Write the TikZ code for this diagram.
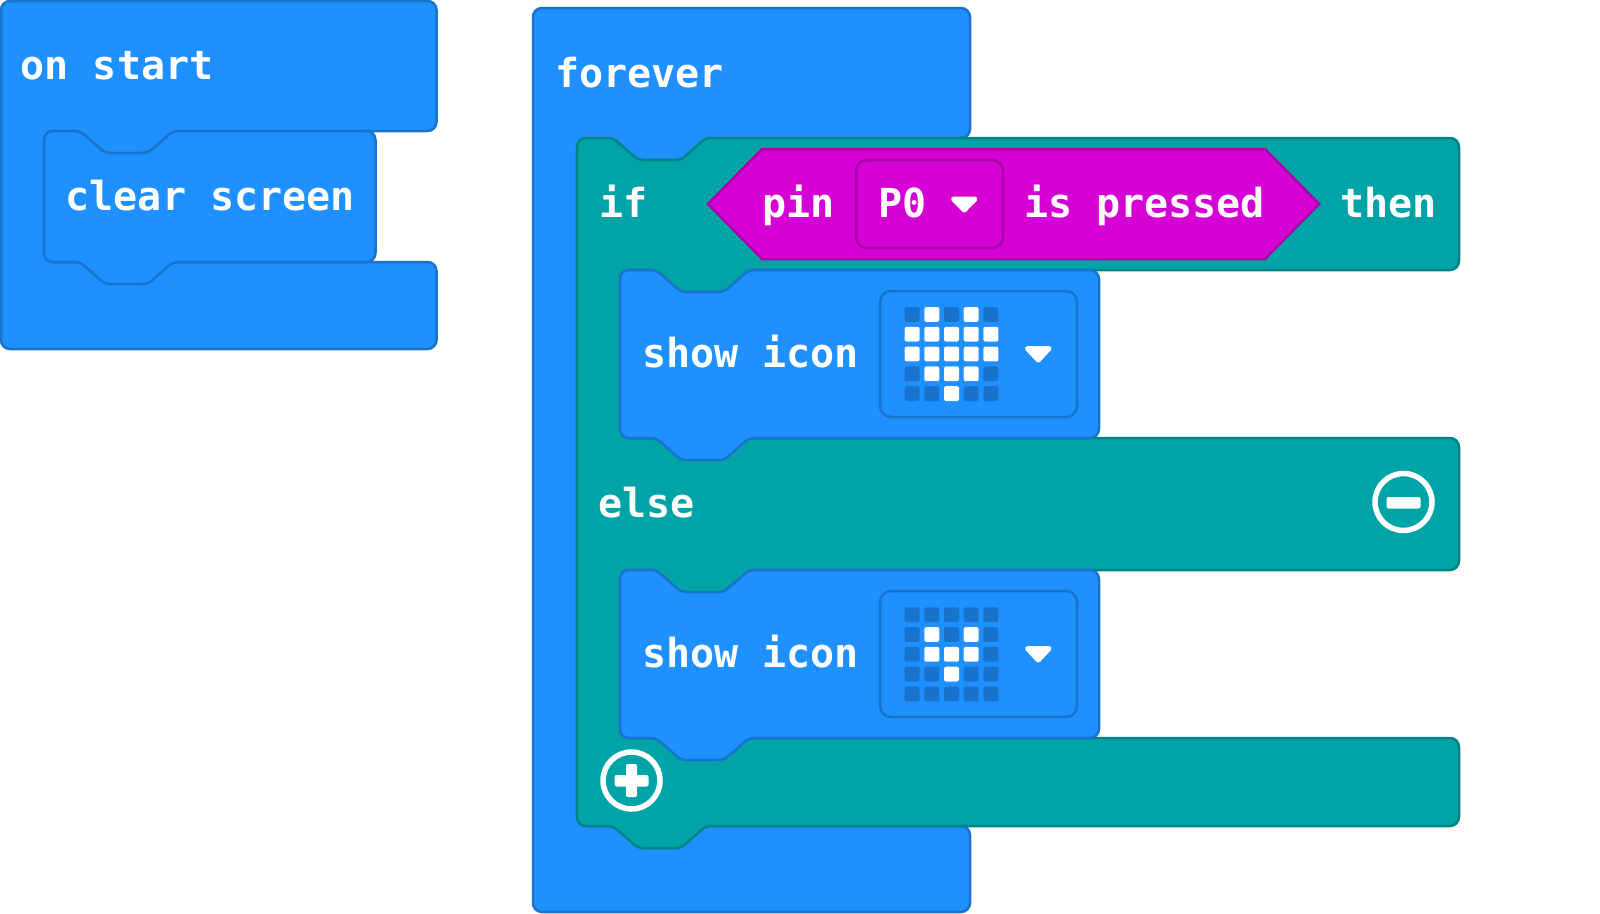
\documentclass[tikz,border=0pt]{standalone}
\usepackage{fontspec}
\setmonofont{DejaVu Sans Mono}
\usepackage{xcolor}
\definecolor{blockblue}{HTML}{1E90FF}
\definecolor{blockblueline}{HTML}{1873CC}
\definecolor{blockteal}{HTML}{00A4A6}
\definecolor{blocktealline}{HTML}{008385}
\definecolor{blockpink}{HTML}{D400D4}
\definecolor{blockpinkline}{HTML}{A900A9}
\tikzset{
	bluebox/.style={fill=blockblue, draw=blockblueline, line width=2.5pt, rounded corners=9pt},
	tealbox/.style={fill=blockteal, draw=blocktealline, line width=2.5pt, rounded corners=9pt},
	pinkbox/.style={fill=blockpink, draw=blockpinkline, line width=2.5pt},
	fieldbox/.style={draw=blockblueline, line width=2.5pt, rounded corners=11pt},
	label/.style={anchor=base west, inner sep=0pt, text=white, font=\ttfamily\bfseries\fontsize{40}{48}\selectfont},
	ledoff/.style={fill=blockblueline, rounded corners=2pt},
	ledon/.style={fill=white, rounded corners=2pt},
	arrowtri/.style={fill=white, draw=white, line width=5pt, line join=round},
	ring/.style={draw=white, line width=5.5pt}
}
% notch of a block, walked right to left at height #2 from block edge #1
\newcommand{\notchleft}[2]{[rounded corners=5pt] -- ({#1+129},#2) -- ({#1+104},{#2+22}) -- ({#1+61},{#2+22}) -- ({#1+36},#2) [rounded corners=9pt]}
\newcommand{\notchright}[2]{[rounded corners=5pt] -- ({#1+36},#2) -- ({#1+61},{#2+22}) -- ({#1+104},{#2+22}) -- ({#1+129},#2) [rounded corners=9pt]}
% five by five icon, dark dots first
\newcommand{\ledgrid}[3]{
	\foreach \c in {0,...,4}
		\foreach \r in {0,...,4}
			\fill[ledoff] ({#1+\c*19.7},{#2+\r*19.8}) rectangle +(15,14.8);
	\foreach \c/\r in {#3}
		\fill[ledon] ({#1+\c*19.7},{#2+\r*19.8}) rectangle +(15,14.8);
}
\begin{document}
\begin{tikzpicture}[x=1pt,y=-1pt]
	\useasboundingbox (0,0) rectangle (1600,913);

	% on start
	\draw[bluebox] (1,1) -- (436.5,1) -- (436.5,131) \notchleft{44}{131} -- (44,131) -- (44,262) -- (436.5,262) -- (436.5,349) -- (1,349) -- cycle;
	\draw[bluebox] (44,131) \notchright{44}{131} -- (375.5,131) -- (375.5,262) \notchleft{44}{262} -- (44,262) -- cycle;
	\node[label] (onstart) at (20.5,79) {on start};
	\node[label] (clear) at (65.5,210) {clear screen};

	% forever
	\draw[bluebox] (533,8) -- (970,8) -- (970,138) \notchleft{577}{138} -- (577,138) -- (577,826) -- (970,826) -- (970,912) -- (533,912) -- cycle;
	\node[label] (forever) at (555,87) {forever};

	% if then else
	\draw[tealbox] (577,138) \notchright{577}{138} -- (1459,138) -- (1459,270) \notchleft{620}{270} -- (620,270) -- (620,438) -- (1459,438) -- (1459,570) \notchleft{620}{570} -- (620,570) -- (620,738) -- (1459,738) -- (1459,826) \notchleft{577}{826} -- (577,826) -- cycle;
	\node[label] (if) at (599,217) {if};
	\node[label] (else) at (598.5,517) {else};
	\node[label] (then) at (1340,217) {then};

	% condition
	\draw[pinkbox] (708,204) -- (762,149) -- (1265,149) -- (1319,204) -- (1265,259) -- (762,259) -- cycle;
	\draw[draw=blockpinkline, line width=2.5pt, rounded corners=11pt] (856,160) rectangle (1003,248);
	\node[label] (pin) at (762,217) {pin};
	\node[label] (pzero) at (878,217) {P0};
	\node[label] (pressed) at (1024,217) {is pressed};
	\draw[arrowtri] (953.5,199) -- (975,199) -- (964.25,210) -- cycle;

	% first show icon
	\draw[bluebox] (620,270) \notchright{620}{270} -- (1099,270) -- (1099,438) \notchleft{620}{438} -- (620,438) -- cycle;
	\draw[fieldbox] (880,291) rectangle (1077,417);
	\node[label] (showa) at (642,367) {show icon};
	\ledgrid{904.6}{307}{1/0,3/0,0/1,1/1,2/1,3/1,4/1,0/2,1/2,2/2,3/2,4/2,1/3,2/3,3/3,2/4}
	\draw[arrowtri] (1027.5,348.5) -- (1049,348.5) -- (1038.25,360) -- cycle;

	% second show icon
	\draw[bluebox] (620,570) \notchright{620}{570} -- (1099,570) -- (1099,738) \notchleft{620}{738} -- (620,738) -- cycle;
	\draw[fieldbox] (880,591) rectangle (1077,717);
	\node[label] (showb) at (642,667) {show icon};
	\ledgrid{904.6}{607.3}{1/1,3/1,1/2,2/2,3/2,2/3}
	\draw[arrowtri] (1027.5,648.5) -- (1049,648.5) -- (1038.25,660) -- cycle;

	% minus and plus
	\draw[ring] (1403.5,502) circle (28.5);
	\fill[white, rounded corners=2pt] (1386.5,497) rectangle (1420.5,508.5);
	\draw[ring] (631.5,780.5) circle (28.5);
	\fill[white, rounded corners=2pt] (614.5,775) rectangle (648.5,786.5);
	\fill[white, rounded corners=2pt] (626,764) rectangle (637,797);
\end{tikzpicture}
\end{document}
